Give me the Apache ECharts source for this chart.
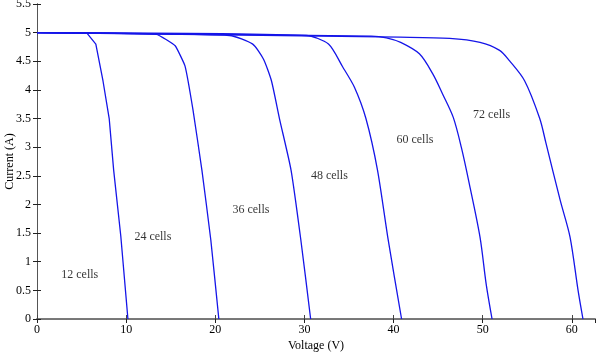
<!DOCTYPE html>
<html>
<head>
<meta charset="utf-8">
<script src="https://cdn.jsdelivr.net/npm/echarts@6/dist/echarts.min.js"></script>
<style>
  html, body { margin: 0; padding: 0; background: #fff; }
  #chart { width: 600px; height: 353px; }
</style>
</head>
<body>
<div id="chart"></div>
<script>
// voltage / current points, one pair of arrays per curve
var v12 = [0, 5.6, 6.6, 7.4, 8.1, 8.6, 9.4, 10.2];
var i12 = [5.0, 4.99, 4.80, 4.16, 3.5, 2.6, 1.45, 0];
var v24 = [0, 13.4, 15.5, 16.6, 17.5, 18.5, 19.5, 20.4];
var i24 = [5.0, 4.97, 4.77, 4.42, 3.65, 2.6, 1.38, 0];
var v36 = [0, 21.6, 24.2, 25.4, 26.3, 27.2, 28.5, 29.6, 30.7];
var i36 = [5.0, 4.95, 4.80, 4.54, 4.16, 3.5, 2.6, 1.38, 0];
var v48 = [0, 30.2, 32.7, 34.3, 35.6, 36.9, 38.2, 39.4, 40.9];
var i48 = [5.0, 4.95, 4.80, 4.40, 4.05, 3.5, 2.6, 1.38, 0];
var v60 = [0, 37.5, 39.2, 40.8, 42.9, 44.4, 45.5, 46.7, 47.6, 48.5, 49.7, 50.4, 51.05];
var i60 = [5.0, 4.94, 4.91, 4.83, 4.63, 4.28, 3.93, 3.52, 3.0, 2.36, 1.43, 0.6, 0];
var v72 = [0, 40.7, 46.3, 49.7, 51.9, 53.0, 54.7, 56.4, 57.1, 58.7, 59.8, 60.7, 61.25];
var i72 = [5.0, 4.92, 4.9, 4.83, 4.69, 4.51, 4.16, 3.5, 3.07, 2.07, 1.43, 0.5, 0];

var curveNames = ['12 cells', '24 cells', '36 cells', '48 cells', '60 cells', '72 cells'];
// where each name sits (voltage, current)
var labelV = [4.8, 13.0, 24.0, 32.8, 42.4, 51.0];
var labelI = [0.77, 1.43, 1.90, 2.50, 3.12, 3.57];

var xTicks = [0, 10, 20, 30, 40, 50, 60];
var yTicks = [0, 0.5, 1, 1.5, 2, 2.5, 3, 3.5, 4, 4.5, 5, 5.5];

var font = '"Liberation Serif", "DejaVu Serif", serif';

function pairs(v, c) {
  var out = [];
  for (var k = 0; k < v.length; k++) out.push([v[k], c[k]]);
  return out;
}

var curves = [pairs(v12, i12), pairs(v24, i24), pairs(v36, i36),
              pairs(v48, i48), pairs(v60, i60), pairs(v72, i72)];
var smoothness = [0, 0.1, 0.2, 0.25, 0.3, 0.3];

var series = curves.map(function (d, k) {
  return {
    name: curveNames[k],
    type: 'line',
    data: d,
    showSymbol: false,
    smooth: smoothness[k],
    lineStyle: { color: '#1515e8', width: 1.3 },
    silent: true,
    animation: false
  };
});

series.push({
  type: 'scatter',
  data: curveNames.map(function (n, k) { return [labelV[k], labelI[k], n]; }),
  symbolSize: 0,
  silent: true,
  animation: false,
  label: {
    show: true,
    position: 'inside',
    formatter: function (p) { return p.data[2]; },
    fontFamily: font,
    fontSize: 12,
    color: '#000'
  }
});

var chart = echarts.init(document.getElementById('chart'));
chart.setOption({
  animation: false,
  grid: { left: 37, right: 5, top: 4, bottom: 34, outerBoundsMode: 'none', containLabel: false },
  xAxis: [{
    type: 'value',
    min: xTicks[0],
    max: 62.6,
    interval: 10,
    name: 'Voltage (V)',
    nameLocation: 'middle',
    nameGap: 21,
    nameMoveOverlap: false,
    nameTextStyle: { fontFamily: font, fontSize: 12, color: '#000' },
    axisLine: { lineStyle: { color: '#7a7a7a', width: 2 } },
    axisTick: { inside: true, length: 4, lineStyle: { color: '#444' } },
    axisLabel: { fontFamily: font, fontSize: 12, color: '#000', margin: 5, showMaxLabel: false },
    splitLine: { show: false }
  }, {
    type: 'value',
    position: 'top',
    min: xTicks[0],
    max: 62.6,
    interval: 10,
    axisLine: { lineStyle: { color: '#777', width: 1 } },
    axisTick: { inside: true, length: 4, lineStyle: { color: '#222' } },
    axisLabel: { show: false },
    splitLine: { show: false }
  }],
  yAxis: [{
    type: 'value',
    min: yTicks[0],
    max: yTicks[yTicks.length - 1],
    interval: 0.5,
    name: 'Current (A)',
    nameLocation: 'middle',
    nameGap: 21,
    nameRotate: 90,
    nameMoveOverlap: false,
    nameTextStyle: { fontFamily: font, fontSize: 12, color: '#000' },
    axisLine: { lineStyle: { color: '#222', width: 1 } },
    axisTick: { inside: true, length: 4, lineStyle: { color: '#222' } },
    axisLabel: { fontFamily: font, fontSize: 12, color: '#000', margin: 6 },
    splitLine: { show: false }
  }, {
    type: 'value',
    position: 'right',
    min: yTicks[0],
    max: yTicks[yTicks.length - 1],
    interval: 0.5,
    axisLine: { lineStyle: { color: '#555', width: 1 } },
    axisTick: { inside: true, length: 4, lineStyle: { color: '#222' } },
    axisLabel: { show: false },
    splitLine: { show: false }
  }],
  series: series
});
</script>
</body>
</html>
